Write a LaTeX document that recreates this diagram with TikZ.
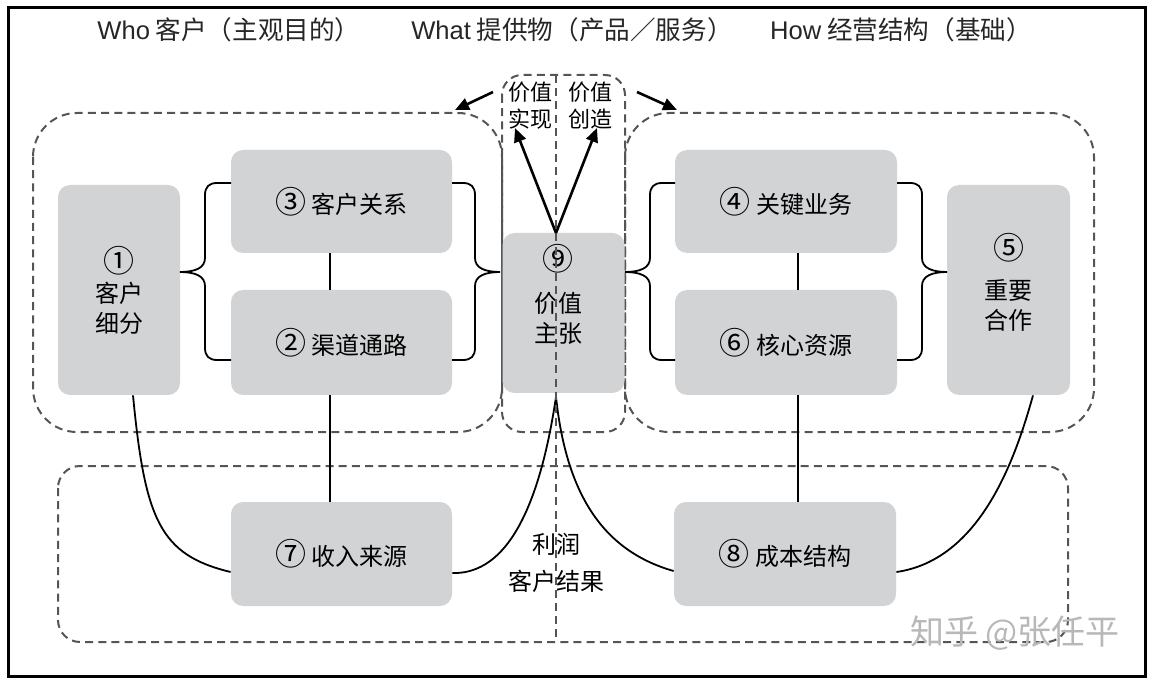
\documentclass[tikz,border=0pt]{standalone}
\usepackage{fontspec}
\setmainfont{Noto Sans CJK SC}
\newfontfamily\latfont{Liberation Sans}
\usetikzlibrary{arrows.meta,calc}
\definecolor{boxgray}{HTML}{D1D3D4}
\definecolor{dashgray}{HTML}{555555}
\definecolor{wmgray}{HTML}{B8B8B8}
\newcommand\circnum[1]{{\fontsize{15.5pt}{15pt}\selectfont #1}}
\newcommand\braceLeft[3]{% tip x, vertical x, end x  (tip on the left)
  (#3,183) -- ({#2+12},183) .. controls ({#2+4},183) and (#2,187) .. (#2,195) -- (#2,258)
  .. controls (#2,268) and ({#2-10},272) .. (#1,272)
  .. controls ({#2-10},272) and (#2,276) .. (#2,286) -- (#2,348)
  .. controls (#2,356) and ({#2+4},360) .. ({#2+12},360) -- (#3,360)}
\newcommand\braceRight[3]{% tip x, vertical x, end x  (tip on the right)
  (#3,183) -- ({#2-12},183) .. controls ({#2-4},183) and (#2,187) .. (#2,195) -- (#2,258)
  .. controls (#2,268) and ({#2+10},272) .. (#1,272)
  .. controls ({#2+10},272) and (#2,276) .. (#2,286) -- (#2,348)
  .. controls (#2,356) and ({#2-4},360) .. ({#2-12},360) -- (#3,360)}
\begin{document}
\begin{tikzpicture}[x=0.5pt,y=-0.5pt,
  box/.style={fill=boxgray, rounded corners=6pt, inner sep=0pt, align=center,
    font=\fontsize{12pt}{15pt}\selectfont},
  boxtext/.style={align=center, inner sep=0pt, font=\fontsize{12pt}{15pt}\selectfont},
  region/.style={draw=dashgray, line width=1pt, dash pattern=on 4pt off 2.6pt},
  conn/.style={draw=black, line width=0.9pt},
  arr/.style={draw=black, line width=1.3pt, -{Triangle[length=7pt,width=6pt]}},
  head/.style={font=\fontsize{12.8pt}{14pt}\selectfont, text=black!85},
  lbl/.style={align=center, inner sep=0pt, font=\fontsize{11pt}{13.5pt}\selectfont}]
\useasboundingbox (0,0) rectangle (1152,684);
\draw[line width=1.5pt] (8,8) rectangle (1145,676);

% headers
\node[head] (h1) at (229,30) {{\latfont Who} 客户（主观目的）};
\node[head] (h2) at (572,30) {{\latfont What} 提供物（产品／服务）};
\node[head] (h3) at (901,30) {{\latfont How} 经营结构（基础）};

% dashed regions
\draw[region, rounded corners=22pt] (33,113) rectangle (502,432);
\draw[region, rounded corners=10pt] (502,75) rectangle (625,432);
\draw[region, rounded corners=22pt] (625,113) rectangle (1094,432);
\draw[region, rounded corners=11pt] (58,466) rectangle (1068,642);

% boxes
\node[box, minimum width=61pt, minimum height=105pt] (b1) at (119,290) {\circnum{①}\\客户\\细分};
\node[box, minimum width=110.5pt, minimum height=51.5pt] (b3) at (341.5,201.5) {\circnum{③} 客户关系};
\node[box, minimum width=110.5pt, minimum height=52.5pt] (b2) at (341.5,342.5) {\circnum{②} 渠道通路};
\node[box, minimum width=61pt, minimum height=80pt] (b9) at (563.5,313) {};
\node[boxtext] (b9t) at (558,294) {\circnum{⑨}\\[6pt]价值\\主张};
\node[box, minimum width=111pt, minimum height=51.5pt] (b4) at (786,201.5) {\circnum{④} 关键业务};
\node[box, minimum width=111pt, minimum height=52.5pt] (b6) at (786,342.5) {\circnum{⑥} 核心资源};
\node[box, minimum width=61.5pt, minimum height=105pt] (b5) at (1008.5,290) {};
\node[boxtext] (b5t) at (1008.5,282) {\circnum{⑤}\\[5pt]重要\\合作};
\node[box, minimum width=110.5pt, minimum height=52pt] (b7) at (341.5,554) {\circnum{⑦} 收入来源};
\node[box, minimum width=111pt, minimum height=52pt] (b8) at (785,554) {\circnum{⑧} 成本结构};

% braces
\draw[conn] \braceLeft{180}{205}{231};
\draw[conn] \braceRight{500}{475}{452};
\draw[conn] \braceLeft{625}{650}{675};
\draw[conn] \braceRight{947}{922}{897};

% straight connectors
\draw[conn] (b3.south -| 330,0) -- (b2.north -| 330,0);
\draw[conn] (b2.south -| 330,0) -- (b7.north -| 330,0);
\draw[conn] (b4.south -| 798,0) -- (b6.north -| 798,0);
\draw[conn] (b6.south -| 798,0) -- (b8.north -| 798,0);

% curved connectors
\coordinate (cusp) at (556,397);
\draw[conn] (b1.south -| 133,0) .. controls (145,520) and (160,555) .. (b7.west |- 0,572);
\draw[conn] (b7.east |- 0,573) .. controls (520,575) and (545,470) .. (cusp);
\draw[conn] (cusp) .. controls (566,490) and (600,550) .. (b8.west |- 0,571);
\draw[conn] (b8.east |- 0,572) .. controls (980,560) and (1015,460) .. (b5.south -| 1033,0);

% vertical dashed divider
\coordinate (vtop) at (556,75);
\coordinate (vbot) at (556,642);
\draw[region] (vtop) -- (vbot);

% value labels and arrows
\node[lbl] (v1) at (530,106) {价值\\实现};
\node[lbl] (v2) at (590,106) {价值\\创造};
\coordinate (a0) at (556,233);
\coordinate (aL) at (515,128);
\coordinate (aR) at (597,128);
\draw[arr] (a0) -- (aL);
\draw[arr] (a0) -- (aR);
\coordinate (ul1) at (493,92);
\coordinate (ul2) at (455,110);
\coordinate (ur1) at (637,92);
\coordinate (ur2) at (677,110);
\draw[arr] (ul1) -- (ul2);
\draw[arr] (ur1) -- (ur2);

% bottom label
\node[align=center, inner sep=0pt, font=\fontsize{12pt}{18.5pt}\selectfont] (pl) at (556,563) {利润\\客户结果};

% watermark
\node[text=wmgray, font=\fontsize{17pt}{19pt}\selectfont] (wm) at (1015,633) {知乎 @张任平};
\end{tikzpicture}
\end{document}
